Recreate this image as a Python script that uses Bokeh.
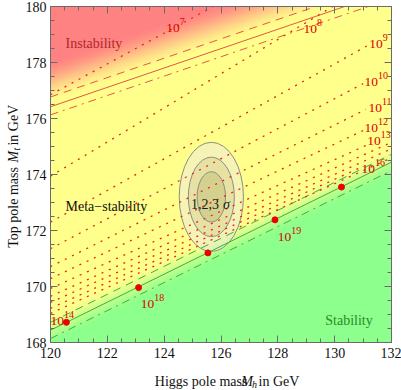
import numpy as np
from bokeh.plotting import figure
from bokeh.layouts import row, column
from bokeh.models import Range1d, LinearAxis, FixedTicker, CustomJSTickFormatter
from bokeh.core.properties import value
from bokeh.embed import file_html
from bokeh.resources import INLINE

# ---------------- data ----------------
mh_major = [120, 122, 124, 126, 128, 130, 132]
mt_major = [168, 170, 172, 174, 176, 178, 180]
mh_minor = [120.5, 121, 121.5, 122.5, 123, 123.5, 124.5, 125, 125.5, 126.5, 127, 127.5,
            128.5, 129, 129.5, 130.5, 131, 131.5]
mt_minor = [168.5, 169, 169.5, 170.5, 171, 171.5, 172.5, 173, 173.5, 174.5, 175, 175.5,
            176.5, 177, 177.5, 178.5, 179, 179.5]

edge_mh = [120, 132]
# instability boundary: central, upper and lower (Mt at Mh=120 and Mh=132)
inst_mt = [176.42, 180.57]
inst_hi_mt = [176.77, 180.92]
inst_lo_mt = [176.13, 180.28]
# stability boundary
stab_mt = [168.44, 174.44]
stab_hi_mt = [168.72, 174.72]
stab_lo_mt = [168.14, 174.14]

# instability-scale contours (log10 Lambda): Mt at Mh=120, Mt at Mh=132, end Mh
lam_exp = [7, 8, 9, 10, 11, 12, 13, 14, 15, 16, 17]
lam_left_mt = [176.85, 173.94, 172.30, 171.35, 170.71, 170.28, 169.93, 169.65, 169.43,
               169.22, 169.04]
lam_right_mt = [183.45, 181.26, 179.08, 177.78, 176.78, 176.05, 175.45, 175.15, 174.92,
                174.75, 174.60]
lam_end_mh = [132, 132, 131.15, 131.0, 131.1, 131.0, 131.1, 132, 132, 130.9, 132]

# contour labels: exponent, Mh (left of "10"), Mt (baseline)
lab_exp = ["7", "8", "9", "10", "11", "12", "13", "16", "19", "18", "14"]
lab_mh = [124.07, 128.90, 131.22, 131.05, 131.19, 131.05, 131.15, 130.94, 128.00, 123.18, 120.0]
lab_mt = [179.22, 179.18, 178.65, 177.30, 176.38, 175.67, 175.18, 174.18, 171.77, 169.36, 168.76]

# red points on the stability boundary
dot_mh = [120.56, 123.10, 125.54, 127.90, 130.24]
dot_mt = [168.72, 169.96, 171.20, 172.38, 173.55]

# experimental 1,2,3 sigma ellipses
ell_mh = 125.66
ell_mt = 173.20
ell_w = [2.26, 1.62, 1.00]
ell_h = [3.90, 2.84, 1.80]

# ---------------- layout ----------------
YW = 22                  # strip for the y title
W, H = 379, 364          # main figure
XH = 390 - H             # strip for the x title
BL, BR, BT, BB = 28, 10, 6, 22
FW, FH = W - BL - BR, H - BT - BB
pxx, pxy = FW / 12.0, FH / 12.0
SERIF = "Liberation Serif"

p = figure(width=W, height=H, x_range=Range1d(120, 132), y_range=Range1d(168, 180),
           output_backend="svg", toolbar_location=None, x_axis_type=None, y_axis_type=None,
           title=None,
           min_border_left=BL, min_border_right=BR, min_border_top=BT, min_border_bottom=BB)
p.xgrid.visible = False
p.ygrid.visible = False
p.outline_line_color = "#6a6a6a"
p.border_fill_color = "white"

# ---------------- background regions ----------------
nx, ny = 341, 336
gx = np.linspace(120, 132, nx)
gy = np.linspace(168, 180, ny)
X, Y = np.meshgrid(gx, gy)
inst_c = np.interp(X, edge_mh, inst_mt)
stab_c = np.interp(X, edge_mh, stab_mt)

def smooth(t):
    t = np.clip(t, 0, 1)
    return t * t * (3 - 2 * t)

r = smooth((Y - inst_c - 0.1) / 1.6)
g = smooth((stab_c + 0.55 - Y) / 1.15)
yellow = np.array([255, 255, 140.0])
red = np.array([255, 130, 130.0])
green = np.array([140, 255, 140.0])
col = yellow[None, None, :] * (1 - r - g)[..., None] + red * r[..., None] + green * g[..., None]
img = np.empty((ny, nx), dtype=np.uint32)
view = img.view(dtype=np.uint8).reshape((ny, nx, 4))
view[:, :, 0] = col[..., 0]
view[:, :, 1] = col[..., 1]
view[:, :, 2] = col[..., 2]
view[:, :, 3] = 255
p.image_rgba(image=[img], x=120, y=168, dw=12, dh=12)

# ---------------- ellipses ----------------
p.ellipse(x=[ell_mh] * 3, y=[ell_mt] * 3, width=ell_w, height=ell_h,
          fill_color=["#ece8e0", "#c8c384", "#b4af64"], fill_alpha=[0.5, 0.35, 0.35],
          line_color="#8e8e80", line_width=1)

# ---------------- boundaries ----------------
p.line(edge_mh, inst_mt, line_color="#e8544a", line_width=1)
p.line(edge_mh, inst_hi_mt, line_color="#e8544a", line_width=1, line_dash="8 6")
p.line(edge_mh, inst_lo_mt, line_color="#e8544a", line_width=1, line_dash="8 5 2 5")
p.line(edge_mh, stab_mt, line_color="#3fae3f", line_width=1)
p.line(edge_mh, stab_hi_mt, line_color="#3fae3f", line_width=1, line_dash="8 6")
p.line(edge_mh, stab_lo_mt, line_color="#3fae3f", line_width=1, line_dash="8 5 2 5")

# ---------------- Lambda contours ----------------
xs, ys = [], []
for lft, rgt, end in zip(lam_left_mt, lam_right_mt, lam_end_mh):
    xs.append([120, end])
    ys.append([lft, float(np.interp(end, edge_mh, [lft, rgt]))])
p.multi_line(xs, ys, line_color="#ee2020", line_width=1.3, line_dash="2 6")

p.scatter(dot_mh, dot_mt, size=6, color="#ee0000")

# contour labels
p.text(x=lab_mh, y=lab_mt, text=["10"] * len(lab_mh), text_font=value(SERIF),
       text_font_size="13.5px", text_color="#e00000", text_baseline="alphabetic", text_align="left")
p.text(x=lab_mh, y=lab_mt, text=lab_exp, text_font=value(SERIF), x_offset=13.5, y_offset=-6.5,
       text_font_size="10px", text_color="#e00000", text_baseline="alphabetic", text_align="left")

# region labels
p.text(x=[120.53], y=[178.69], text=["Instability"], text_font=value(SERIF), text_font_size="14px",
       text_color="#b02828", text_baseline="alphabetic", text_align="left")
p.text(x=[120.53], y=[172.84], text=["Meta\u2212stability"], text_font=value(SERIF), text_font_size="14px",
       text_color="#111111", text_baseline="alphabetic", text_align="left")
p.text(x=[129.67], y=[168.79], text=["Stability"], text_font=value(SERIF), text_font_size="14px",
       text_color="#2a8a2a", text_baseline="alphabetic", text_align="left")
p.text(x=[124.94], y=[172.94], text=["1,2,3 "], text_font=value(SERIF), text_font_size="14px",
       text_color="#1a1a1a", text_baseline="alphabetic", text_align="left")
p.text(x=[124.94 + 32.0 / pxx], y=[172.94], text=["\u03c3"], text_font=value(SERIF), text_font_size="14px",
       text_font_style="italic", text_color="#1a1a1a", text_baseline="alphabetic", text_align="left")

# ---------------- axes ----------------
ticker_x = FixedTicker(ticks=mh_major, minor_ticks=mh_minor)
ticker_y = FixedTicker(ticks=mt_major, minor_ticks=mt_minor)
blank = CustomJSTickFormatter(code="return ''")

def style(ax, labels):
    ax.axis_line_color = "#6a6a6a"
    ax.major_tick_line_color = "#6a6a6a"
    ax.minor_tick_line_color = "#6a6a6a"
    ax.major_tick_in = 7
    ax.major_tick_out = 0
    ax.minor_tick_in = 4
    ax.minor_tick_out = 0
    if labels:
        ax.major_label_text_font = SERIF
        ax.major_label_text_font_size = "14px"
        ax.major_label_text_color = "#111111"
    else:
        ax.major_label_text_font_size = "1px"
        ax.major_label_standoff = 0

ax_b = LinearAxis(ticker=ticker_x)
style(ax_b, True)
ax_b.major_label_standoff = 5
ax_l = LinearAxis(ticker=ticker_y)
style(ax_l, True)
ax_l.major_label_standoff = 4
ax_t = LinearAxis(ticker=ticker_x, formatter=blank)
style(ax_t, False)
ax_r = LinearAxis(ticker=ticker_y, formatter=blank)
style(ax_r, False)
p.add_layout(ax_b, "below")
p.add_layout(ax_l, "left")
p.add_layout(ax_t, "above")
p.add_layout(ax_r, "right")

# ---------------- axis titles in side strips (plain / italic M / subscript) ----------------
def strip(w, h):
    f = figure(width=w, height=h, x_range=Range1d(0, w), y_range=Range1d(0, h),
               output_backend="svg", toolbar_location=None, x_axis_type=None, y_axis_type=None,
               title=None, min_border=0)
    f.outline_line_color = None
    f.border_fill_color = "white"
    f.background_fill_color = "white"
    return f

def piece(f, x, y, t, size="14px", style_="normal", angle=0.0):
    f.text(x=[x], y=[y], text=[t], text_font=value(SERIF), text_font_size=size,
           text_font_style=style_, text_color="#111111", angle=angle,
           text_baseline="alphabetic", text_align="left")

# x title strip (below the main figure)
xf = strip(W, XH)
x0, yb = 138.0 - YW, 9.0
w1, wM, wsub = 96.05, 11.66, 5.0
piece(xf, x0, yb, "Higgs pole mass ")
piece(xf, x0 + w1, yb, "M", style_="italic")
piece(xf, x0 + w1 + wM + 0.3, yb - 3.0, "h", size="10px", style_="italic")
piece(xf, x0 + w1 + wM + wsub + 2.5, yb, " in GeV")

# y title strip (left of the main figure), rotated text
yf = strip(YW, H)
xb = 12.5
yc = H - (BT + FH / 2.0)
v1, vM, vsub = 85.16, 11.66, 2.8
total = v1 + vM + vsub + 2.5 + 44.32
y0 = yc - total / 2.0
ang = np.pi / 2
piece(yf, xb, y0, "Top pole mass ", angle=ang)
piece(yf, xb, y0 + v1, "M", style_="italic", angle=ang)
piece(yf, xb + 3.0, y0 + v1 + vM + 0.3, "t", size="10px", style_="italic", angle=ang)
piece(yf, xb, y0 + v1 + vM + vsub + 2.5, " in GeV", angle=ang)

layout = row(yf, column(p, xf))
open("out.html", "w").write(file_html(layout, INLINE))
